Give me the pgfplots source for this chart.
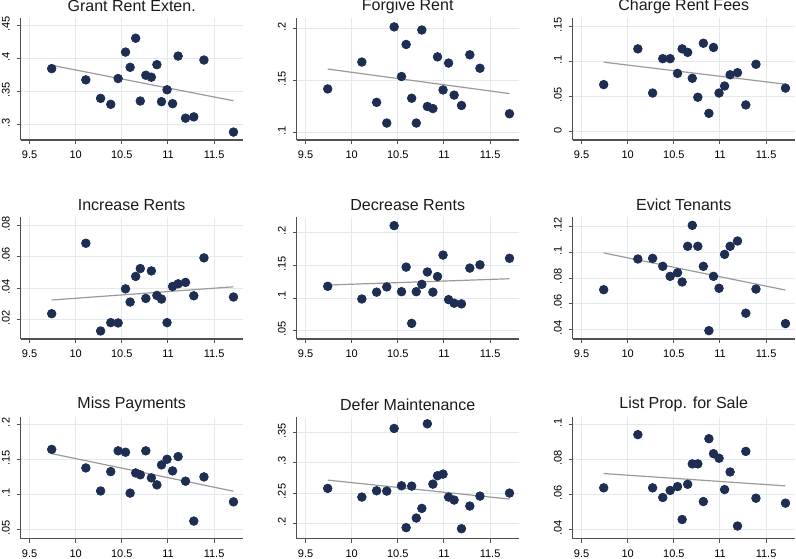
\documentclass[border=0pt]{standalone}
\usepackage{fontspec}
\setmainfont{Liberation Sans}
\usepackage{pgfplots}
\usepackage{pgfplotstable}
\pgfplotsset{compat=1.18}
\definecolor{mk}{HTML}{1E2D52}
\definecolor{fitc}{HTML}{9A9A9A}
\definecolor{gridc}{HTML}{E2EAED}
\definecolor{axc}{HTML}{505050}
\definecolor{txt}{HTML}{1A1A1A}

\pgfplotstableread{
x grant forgive charge increase decrease evict miss defer list
9.74 .385 .142 .067 .0238 .118 .0709 .164 .2577 .0638
10.11 .368 .168 .118 .0686 .0985 .0948 .1377 .2434 .0940
10.27 .340 .129 .055 .0128 .109 .0953 .105 .2538 .0638
10.38 .331 .109 .104 .0181 .117 .0891 .1325 .2533 .0583
10.46 .370 .202 .104 .0179 .2112 .0813 .162 .3566 .0623
10.54 .410 .154 .083 .0396 .1097 .0841 .160 .262 .0645
10.59 .387 .185 .118 .0312 .1475 .0769 .102 .1929 .0458
10.65 .431 .133 .113 .0475 .061 .1047 .1306 .2615 .0658
10.70 .336 .109 .076 .0525 .1097 .121 .128 .2088 .0774
10.76 .375 .199 .049 .0335 .121 .1047 .162 .2247 .0774
10.82 .372 .125 .126 .051 .140 .0891 .1236 .3643 .0560
10.88 .391 .123 .026 .0354 .109 .039 .1137 .2648 .0917
10.93 .335 .173 .120 .0331 .133 .0813 .142 .2786 .0832
10.99 .353 .141 .055 .0181 .166 .072 .150 .2813 .0806
11.05 .332 .167 .065 .0411 .0975 .0984 .1335 .2434 .0628
11.11 .404 .136 .081 .0428 .092 .1047 .1538 .2385 .0728
11.19 .310 .126 .084 .0437 .091 .1088 .1189 .1912 .0421
11.28 .312 .175 .038 .0352 .146 .0526 .0623 .2286 .0845
11.39 .398 .162 .096 .0593 .151 .0714 .125 .2450 .0579
11.71 .289 .118 .062 .0344 .161 .0445 .0896 .25 .0551
}\datatab

\pgfplotstableread{
x grant forgive charge increase decrease evict miss defer list
9.74 .390 .1612 .099 .0325 .1199 .0995 .158 .2714 .0719
11.71 .3364 .1375 .0676 .0409 .1296 .0706 .1047 .2401 .0649
}\fittab

\pgfplotsset{
  every axis title shift=0pt,
  panel/.style={
    scale only axis,
    width=111pt, height=61pt,
    anchor=south west,
    xmin=9.404, xmax=11.81,
    axis x line*=bottom, axis y line*=left,
    axis line style={-, color=axc, line width=0.7pt},
    tick align=outside,
    major tick length=2pt,
    tick style={color=axc, line width=0.5pt},
    grid=major,
    grid style={color=gridc, line width=0.5pt},
    scaled ticks=false,
    xtick={9.5,10,10.5,11,11.5},
    xticklabels={9.5,10,10.5,11,11.5},
    ticklabel style={font=\fontsize{5.5}{6.5}\selectfont, text=black},
    yticklabel style={rotate=90, anchor=south, xshift=0.8pt},
    /pgf/number format/assume math mode=true,
    title style={at={(0.5,1)}, anchor=center, yshift=6pt, font=\fontsize{8}{9.6}\selectfont, text=txt},
    clip=false,
  }
}

\newcommand{\panel}[8]{%
\begin{axis}[panel, at={(#1,#2)}, title={#3}, ymin=#5, ymax=#6, ytick={#7}, yticklabels={#8}]
\addplot[color=fitc, line width=0.6pt] table[x=x, y=#4] {\fittab};
\addplot[only marks, mark=*, mark size=2.15pt, color=mk, fill=mk] table[x=x, y=#4] {\datatab};
\end{axis}}

\begin{document}
\begin{tikzpicture}
\useasboundingbox (0,0) rectangle (398pt,279pt);
\panel{10.35pt}{209pt}{Grant Rent Exten.}{grant}{.277}{.4616}{.3,.35,.4,.45}{.3,.35,.4,.45}
\panel{148.35pt}{209pt}{Forgive Rent}{forgive}{.0926}{.2106}{.1,.15,.2}{.1,.15,.2}
\panel{286.35pt}{209pt}{Charge Rent Fees}{charge}{-.012}{.162}{0,.05,.1,.15}{0,.05,.1,.15}
\panel{10.35pt}{109.5pt}{Increase Rents}{increase}{.0077}{.0853}{.02,.04,.06,.08}{.02,.04,.06,.08}
\panel{148.35pt}{109.5pt}{Decrease Rents}{decrease}{.037}{.2245}{.05,.1,.15,.2}{.05,.1,.15,.2}
\panel{286.35pt}{109.5pt}{Evict Tenants}{evict}{.0325}{.1275}{.04,.06,.08,.1,.12}{.04,.06,.08,.1,.12}
\panel{10.35pt}{9.65pt}{Miss Payments}{miss}{.0373}{.2104}{.05,.1,.15,.2}{.05,.1,.15,.2}
\panel{148.35pt}{9.65pt}{Defer Maintenance}{defer}{.1747}{.376}{.2,.25,.3,.35}{.2,.25,.3,.35}
\panel{286.35pt}{9.65pt}{List Prop. for Sale}{list}{.0349}{.1042}{.04,.06,.08,.1}{.04,.06,.08,.1}
\end{tikzpicture}
\end{document}
